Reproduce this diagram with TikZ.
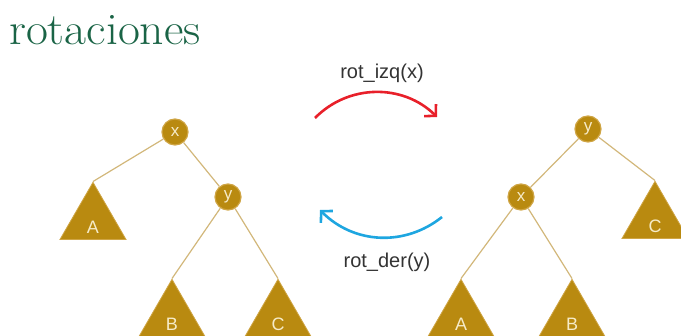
\documentclass[tikz,border=0pt]{standalone}
\usepackage{fontspec}
\usepackage{graphicx}
\newfontfamily\labelfont{Liberation Sans}
\usetikzlibrary{arrows.meta, shapes.geometric}
\definecolor{title_green}{HTML}{1A6446}
\definecolor{gold_node}{HTML}{B98A10}
\definecolor{gold_rim}{HTML}{CFA545}
\definecolor{branch_tan}{HTML}{D2B77A}
\definecolor{cream_txt}{HTML}{F6EBC8}
\definecolor{izq_red}{HTML}{E8202A}
\definecolor{der_blue}{HTML}{1EA6E0}
\tikzset{>=Stealth,
  key/.style={circle, fill=gold_node, draw=gold_rim, line width=1.2pt,
    minimum size=26pt, inner sep=0pt, text=cream_txt,
    font=\labelfont\fontsize{17}{17}\selectfont},
  subtree/.style={regular polygon, regular polygon sides=3,
    minimum size=75pt, inner sep=0pt, fill=gold_node, draw=gold_rim,
    line width=0.8pt, text=cream_txt, text height=27pt, text depth=0pt,
    font=\labelfont\fontsize{18}{18}\selectfont},
  branch/.style={draw=branch_tan, line width=1.2pt},
  rotation/.style={line width=2.6pt, -{Straight Barb[length=8pt, width=17pt]}},
  oplabel/.style={text=black!80, font=\labelfont\fontsize{20}{20}\selectfont}
}

\begin{document}
\begin{tikzpicture}[x=1pt, y=-1pt]
\useasboundingbox (0,0) rectangle (681,336);

% Title
\node[anchor=base west, inner sep=0pt, text=title_green,
  font=\fontsize{45}{45}\selectfont] (title) at (9,45)
  {\scalebox{1.06}[1]{rotaciones}};

% Left tree: x on top, y as right child
\node[key] (lx) at (175,132) {x};
\node[key] (ly) at (228,197) {y};
\node[subtree] (lA) at (93,220.5) {A};
\node[subtree] (lB) at (172,317.5) {B};
\node[subtree] (lC) at (278,317.5) {C};
\draw[branch] (lx) -- (lA.corner 1);
\draw[branch] (lx) -- (ly);
\draw[branch] (ly) -- (lB.corner 1);
\draw[branch] (ly) -- (lC.corner 1);

% Right tree: y on top, x as left child
\node[key] (ry) at (588,129) {y};
\node[key] (rx) at (521,197) {x};
\node[subtree] (rA) at (461,317.5) {A};
\node[subtree] (rB) at (572,317.5) {B};
\node[subtree] (rC) at (655,219.5) {C};
\draw[branch] (ry) -- (rx);
\draw[branch] (ry) -- (rC.corner 1);
\draw[branch] (rx) -- (rA.corner 1);
\draw[branch] (rx) -- (rB.corner 1);

% Rotation arrows between the two trees
\coordinate (izq from) at (315,118);
\coordinate (izq to) at (437,117);
\coordinate (der from) at (442,217);
\coordinate (der to) at (320,210);
\draw[rotation, izq_red] (izq from) to[bend left=45] (izq to);
\draw[rotation, der_blue] (der from) to[bend left=42] (der to);
\node[oplabel] (izq label) at (382,73) {rot\_izq(x)};
\node[oplabel] (der label) at (387,262) {rot\_der(y)};

\end{tikzpicture}
\end{document}
